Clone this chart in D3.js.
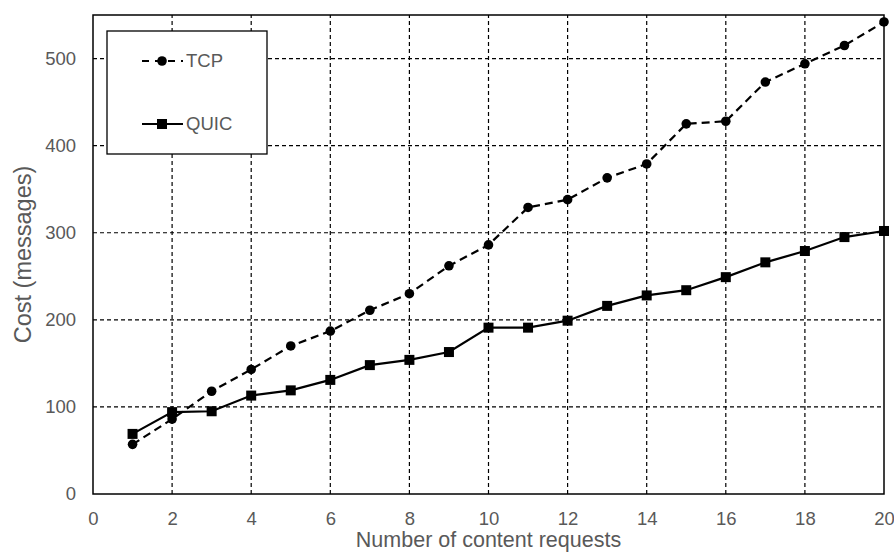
<!DOCTYPE html>
<html>
<head>
<meta charset="utf-8">
<script src="https://cdn.jsdelivr.net/npm/d3@7/dist/d3.min.js"></script>
<style>
  html, body { margin: 0; padding: 0; background: #fff; }
  svg { display: block; font-family: "Liberation Sans", Arial, sans-serif; }
</style>
</head>
<body>
<svg id="chart" width="894" height="554"></svg>
<script>
// ---- data ----
const requests = [1,2,3,4,5,6,7,8,9,10,11,12,13,14,15,16,17,18,19,20];
const tcpCost  = [57,86,118,143,170,187,211,230,262,286,329,338,363,379,425,428,473,494,515,542];
const quicCost = [69,94,95,113,119,131,148,154,163,191,191,199,216,228,234,249,266,279,295,302];
const xTicks = [0,2,4,6,8,10,12,14,16,18,20];
const yTicks = [0,100,200,300,400,500];
const seriesNames = ["TCP","QUIC"];
const xTitle = "Number of content requests";
const yTitle = "Cost (messages)";

const W = 894, H = 554;
const margin = {left: 93, right: 10, top: 15, bottom: 60};
const svg = d3.select("#chart");

const x = d3.scaleLinear().domain([0,20]).range([margin.left, W - margin.right]);
const y = d3.scaleLinear().domain([0,550]).range([H - margin.bottom, margin.top]);

const textColor = "#595959";
const tickFont = "18.5px";
const titleFont = "21.5px";
const yTitleFont = "23.5px";

// grid lines
const grid = svg.append("g");
grid.selectAll("line.v").data(xTicks.filter(d => d > 0 && d < 20)).join("line")
  .attr("x1", d => x(d)).attr("x2", d => x(d))
  .attr("y1", y(0)).attr("y2", y(550))
  .attr("stroke", "#000").attr("stroke-width", 1.2).attr("stroke-dasharray", "4,3");
grid.selectAll("line.h").data(yTicks.filter(d => d > 0)).join("line")
  .attr("x1", x(0)).attr("x2", x(20))
  .attr("y1", d => y(d)).attr("y2", d => y(d))
  .attr("stroke", "#000").attr("stroke-width", 1.2).attr("stroke-dasharray", "4,3");

// frame
svg.append("rect")
  .attr("x", x(0)).attr("y", y(550))
  .attr("width", x(20) - x(0)).attr("height", y(0) - y(550))
  .attr("fill", "none").attr("stroke", "#000").attr("stroke-width", 1.5);

// axes (labels only)
const xAxis = svg.append("g").attr("transform", `translate(0,${y(0)})`)
  .call(d3.axisBottom(x).tickValues(xTicks).tickSize(0).tickPadding(17.5).tickFormat(d3.format("d")));
xAxis.select(".domain").remove();
xAxis.selectAll("text").attr("fill", textColor).style("font-size", tickFont);

const yAxis = svg.append("g").attr("transform", `translate(${x(0)},0)`)
  .call(d3.axisLeft(y).tickValues(yTicks).tickSize(0).tickPadding(17).tickFormat(d3.format("d")));
yAxis.select(".domain").remove();
yAxis.selectAll("text").attr("fill", textColor).style("font-size", tickFont);

// titles
svg.append("text").attr("x", (x(0)+x(20))/2).attr("y", 547)
  .attr("text-anchor", "middle").attr("fill", textColor).style("font-size", titleFont)
  .text(xTitle);
svg.append("text")
  .attr("transform", `translate(31,${(y(0)+y(550))/2}) rotate(-90)`)
  .attr("text-anchor", "middle").attr("fill", textColor).style("font-size", yTitleFont)
  .text(yTitle);

// lines
const line = d3.line().x((d,i) => x(requests[i])).y(d => y(d));
svg.append("path").datum(tcpCost).attr("d", line)
  .attr("fill", "none").attr("stroke", "#000").attr("stroke-width", 2.2)
  .attr("stroke-dasharray", "8,5");
svg.append("path").datum(quicCost).attr("d", line)
  .attr("fill", "none").attr("stroke", "#000").attr("stroke-width", 2.2);

// markers
svg.selectAll("circle.tcp").data(tcpCost).join("circle")
  .attr("cx", (d,i) => x(requests[i])).attr("cy", d => y(d)).attr("r", 4.8).attr("fill", "#000");
const sq = 10;
svg.selectAll("rect.quic").data(quicCost).join("rect")
  .attr("x", (d,i) => x(requests[i]) - sq/2).attr("y", d => y(d) - sq/2)
  .attr("width", sq).attr("height", sq).attr("fill", "#000");

// legend
const lg = svg.append("g");
lg.append("rect").attr("x", 107).attr("y", 31).attr("width", 160).attr("height", 123)
  .attr("fill", "#fff").attr("stroke", "#000").attr("stroke-width", 1.3);
const legendY = [61, 124];
lg.append("line").attr("x1", 142).attr("x2", 183).attr("y1", legendY[0]).attr("y2", legendY[0])
  .attr("stroke", "#000").attr("stroke-width", 2.2).attr("stroke-dasharray", "7,6");
lg.append("circle").attr("cx", 162).attr("cy", legendY[0]).attr("r", 4.8).attr("fill", "#000");
lg.append("line").attr("x1", 142).attr("x2", 183).attr("y1", legendY[1]).attr("y2", legendY[1])
  .attr("stroke", "#000").attr("stroke-width", 2.2);
lg.append("rect").attr("x", 162 - sq/2).attr("y", legendY[1] - sq/2).attr("width", sq).attr("height", sq).attr("fill", "#000");
lg.selectAll("text.lt").data(seriesNames).join("text")
  .attr("x", 186).attr("y", (d,i) => legendY[i]).attr("dy", "0.35em")
  .attr("fill", textColor).style("font-size", tickFont).text(d => d);
</script>
</body>
</html>
